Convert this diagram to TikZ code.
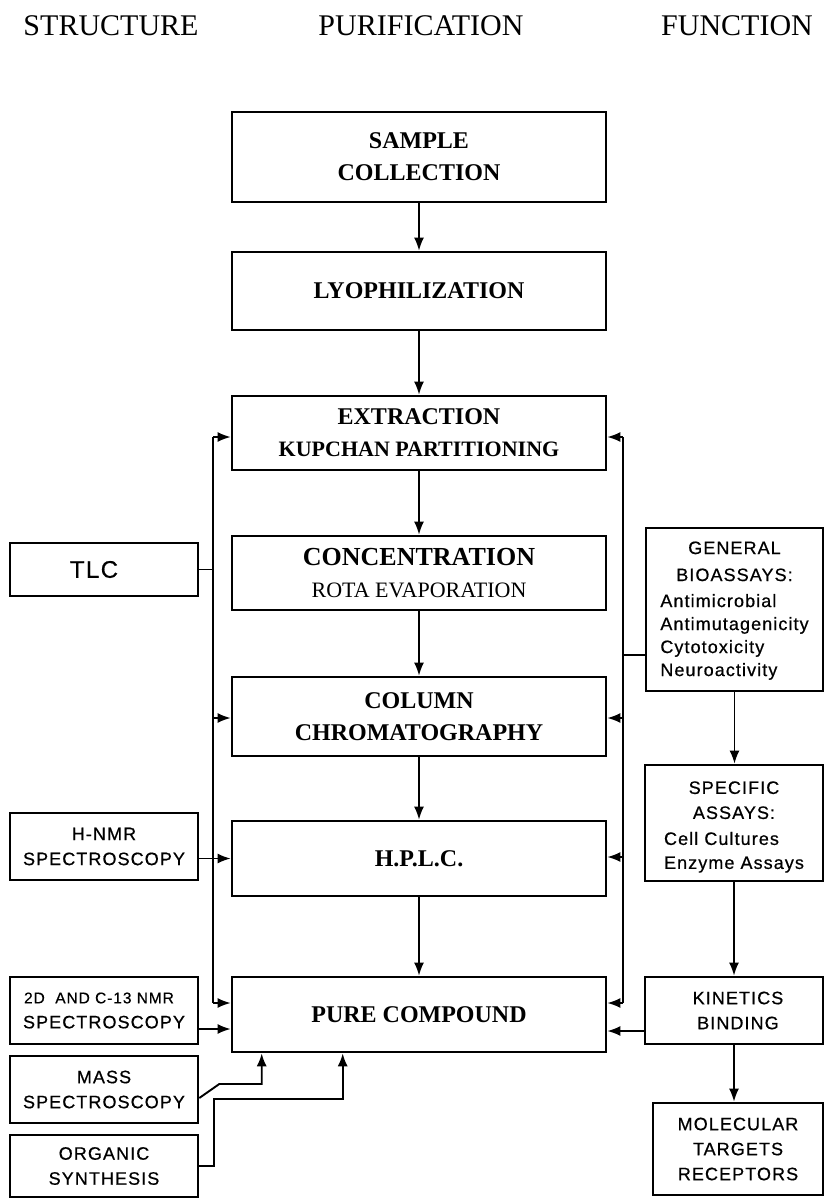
\documentclass[tikz,border=0pt]{standalone}
\usepackage{fontspec}
\setmainfont{Liberation Serif}
\newfontfamily\sidefont[LetterSpace=6,FakeBold=0.6]{Liberation Sans}
\usetikzlibrary{arrows.meta}
\begin{document}
\begin{tikzpicture}[x=1pt,y=-1pt,
  stagebox/.style={draw, line width=2.6pt, inner sep=0pt, align=center,
    font=\bfseries\fontsize{24}{32}\selectfont},
  sidebox/.style={draw, line width=2.6pt, inner sep=0pt, align=center,
    font=\sidefont\fontsize{18}{25}\selectfont},
  link/.style={line width=1.9pt},
  arr/.style={line width=1.9pt, -{Latex[length=13pt,width=10pt]}},
  head/.style={font=\fontsize{30}{32}\selectfont}
]
\useasboundingbox (0,0) rectangle (824,1200);

% column headings
\node[head] (hStruct) at (111,26) {STRUCTURE};
\node[head] (hPurif)  at (421,26) {PURIFICATION};
\node[head] (hFunc)   at (737,26) {FUNCTION};

% purification chain
\node[stagebox, minimum width=374, minimum height=90] (sample) at (419,157) {SAMPLE\\COLLECTION};
\node[stagebox, minimum width=374, minimum height=78] (lyo) at (419,291) {LYOPHILIZATION};
\node[stagebox, minimum width=374, minimum height=74] (extr) at (419,433)
  {EXTRACTION\\\fontsize{22}{32}\selectfont KUPCHAN PARTITIONING};
\node[stagebox, minimum width=374, minimum height=74] (conc) at (419,573)
  {\fontsize{26}{32}\selectfont CONCENTRATION\\\mdseries\fontsize{22}{32}\selectfont ROTA EVAPORATION};
\node[stagebox, minimum width=374, minimum height=79] (col) at (419,716.5) {COLUMN\\CHROMATOGRAPHY};
\node[stagebox, minimum width=374, minimum height=75] (hplc) at (419,858.5) {H.P.L.C.};
\node[stagebox, minimum width=374, minimum height=75] (pure) at (419,1014.5) {PURE COMPOUND};

\draw[arr] (sample.south) -- (lyo.north);
\draw[arr] (lyo.south) -- (extr.north);
\draw[arr] (extr.south) -- (conc.north);
\draw[arr] (conc.south) -- (col.north);
\draw[arr] (col.south) -- (hplc.north);
\draw[arr] (hplc.south) -- (pure.north);

% structure side
\node[sidebox, minimum width=188, minimum height=53, font=\sidefont\fontsize{24}{25}\selectfont] (tlc) at (104,569.5) {TLC\hspace*{20pt}};
\node[sidebox, minimum width=188, minimum height=67] (hnmr) at (104,846.5) {H-NMR\\SPECTROSCOPY};
\node[sidebox, minimum width=188, minimum height=67] (cnmr) at (104,1010.5)
  {\fontsize{15.5}{21}\selectfont 2D\ \ AND C-13 NMR\hspace*{10pt}\\SPECTROSCOPY};
\node[sidebox, minimum width=188, minimum height=67] (mass) at (104,1089.5) {MASS\\SPECTROSCOPY};
\node[sidebox, minimum width=188, minimum height=62] (org) at (104,1166) {ORGANIC\\SYNTHESIS};

% function side
\node[sidebox, minimum width=177, minimum height=163] (gen) at (734.5,609.5)
  {\rule{0pt}{18pt}GENERAL\\[2pt]BIOASSAYS:\\[1pt]\fontsize{18}{23}\selectfont
   \begin{tabular}[t]{@{}l@{}}Antimicrobial\\Antimutagenicity\\Cytotoxicity\\Neuroactivity\end{tabular}};
\node[sidebox, minimum width=178, minimum height=116] (spec) at (734,823)
  {\rule{0pt}{24pt}SPECIFIC\\ASSAYS:\\[1pt]\fontsize{18}{24}\selectfont
   \begin{tabular}[t]{@{}l@{}}Cell Cultures\\Enzyme Assays\end{tabular}};
\node[sidebox, minimum width=178, minimum height=67] (kin) at (734,1010.5) {\hspace*{8pt}KINETICS\\\hspace*{8pt}BINDING};
\node[sidebox, minimum width=170, minimum height=92] (mol) at (738,1149) {MOLECULAR\\TARGETS\\RECEPTORS};

\draw[arr] (gen.south) -- (gen.south |- spec.north);
\draw[arr] (spec.south) -- (spec.south |- kin.north);
\draw[arr] (kin.south) -- (kin.south |- mol.north);

% left feedback bus
\coordinate (lb1) at (213,437);
\coordinate (lb2) at (213,718);
\coordinate (lb3) at (213,1003);
\draw[link] (lb1) -- (lb3);
\draw[arr] (lb1) -- (lb1 -| extr.west);
\draw[arr] (lb2) -- (lb2 -| col.west);
\draw[arr] (lb3) -- (lb3 -| pure.west);
\draw[link] (tlc.east) -- (tlc.east -| lb1);
\draw[arr] (hnmr.east |- hplc.west) -- (hplc.west);
\coordinate (cnmrout) at ([yshift=-18.5pt]cnmr.east);
\draw[arr] (cnmrout) -- (cnmrout -| pure.west);
\draw[arr] ([yshift=-8.5pt]mass.east) -- ++(20,-14) -| ([xshift=31pt]pure.south west);
\draw[arr] (org.east) -- ++(15,0) -- ++(0,-67) -| ([xshift=112pt]pure.south west);

% right feedback bus
\coordinate (rb1) at (623,437);
\coordinate (rb2) at (623,718);
\coordinate (rb3) at (623,857);
\coordinate (rb4) at (623,1003);
\draw[link] (rb1) -- (rb4);
\draw[arr] (rb1) -- (rb1 -| extr.east);
\draw[arr] (rb2) -- (rb2 -| col.east);
\draw[arr] (rb3) -- (rb3 -| hplc.east);
\draw[arr] (rb4) -- (rb4 -| pure.east);
\coordinate (genout) at ([yshift=-45.5pt]gen.west);
\draw[link] (genout) -- (genout -| rb1);
\coordinate (kinout) at ([yshift=-20.5pt]kin.west);
\draw[arr] (kinout) -- (kinout -| pure.east);
\end{tikzpicture}
\end{document}
